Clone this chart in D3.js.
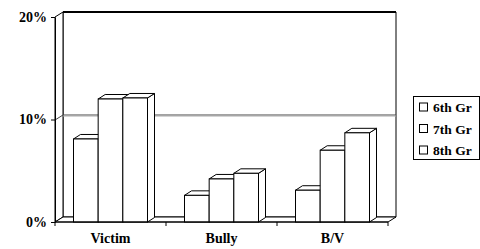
<!DOCTYPE html>
<html>
<head>
<meta charset="utf-8">
<script src="https://cdn.jsdelivr.net/npm/d3@7"></script>
<style>
  body { margin: 0; background: #fff; }
  text { font-family: "Liberation Serif", "Times New Roman", serif; font-weight: bold; fill: #000; }
</style>
</head>
<body>
<script>
// chart data
var categories = ["Victim", "Bully", "B/V"];
var seriesNames = ["6th Gr", "7th Gr", "8th Gr"];
var grade6 = [8.1, 2.6, 3.1];
var grade7 = [12.0, 4.2, 7.0];
var grade8 = [12.1, 4.75, 8.7];
var yTicks = [0, 10, 20];

function main() {
  var seriesValues = [grade6, grade7, grade8];

  var width = 480, height = 249;
  // front plane of the 3d box and depth offset
  var plotLeft = 55, plotRight = 388, plotBottom = 222, plotTop = 17;
  var dx = 8, dy = 5;      // depth of walls
  var bdx = 7, bdy = 4.5;  // depth of bars

  var svg = d3.select("body").append("svg")
      .attr("width", width)
      .attr("height", height);

  var x = d3.scaleBand().domain(categories).range([plotLeft, plotRight]).paddingInner(0).paddingOuter(0);
  var xs = d3.scaleBand().domain(seriesNames).range([0, x.bandwidth()]).paddingOuter(0.75);
  var y = d3.scaleLinear().domain([0, 20]).range([plotBottom, plotTop]);

  function poly(pts) { return "M" + pts.map(function(p) { return p[0] + "," + p[1]; }).join("L") + "Z"; }

  // back wall
  svg.append("path")
      .attr("d", poly([[plotLeft + dx, y(20) - dy], [plotRight + dx, y(20) - dy], [plotRight + dx, y(0) - dy], [plotLeft + dx, y(0) - dy]]))
      .attr("fill", "#fff").attr("stroke", "#000").attr("stroke-width", 1);

  // side wall
  svg.append("path")
      .attr("d", poly([[plotLeft, y(20)], [plotLeft + dx, y(20) - dy], [plotLeft + dx, y(0) - dy], [plotLeft, y(0)]]))
      .attr("fill", "#fff").attr("stroke", "#000").attr("stroke-width", 1);

  // gridline 10%
  [10].forEach(function(v) {
    var g = svg.append("g");
    g.append("path")
        .attr("d", "M" + plotLeft + "," + (y(v) + 0.5) + "L" + (plotLeft + dx) + "," + (y(v) - dy + 0.5) + "L" + (plotRight + dx) + "," + (y(v) - dy + 0.5))
        .attr("fill", "none").attr("stroke", "#444");
    g.append("path")
        .attr("d", "M" + (plotLeft + dx) + "," + (y(v) - dy + 1.5) + "L" + (plotRight + dx) + "," + (y(v) - dy + 1.5))
        .attr("fill", "none").attr("stroke", "#aaa");
  });

  // thick top edge
  svg.append("line")
      .attr("x1", plotLeft + dx).attr("x2", plotRight + dx)
      .attr("y1", y(20) - dy).attr("y2", y(20) - dy)
      .attr("stroke", "#000").attr("stroke-width", 2.2);

  // floor
  svg.append("path")
      .attr("d", poly([[plotLeft, y(0)], [plotRight, y(0)], [plotRight + dx, y(0) - dy], [plotLeft + dx, y(0) - dy]]))
      .attr("fill", "#fff").attr("stroke", "#000").attr("stroke-width", 1);

  // bars
  categories.forEach(function(c, ci) {
    seriesNames.forEach(function(s, si) {
      var v = seriesValues[si][ci];
      var x0 = x(c) + xs(s), x1 = x0 + xs.bandwidth();
      var yt = y(v), yb = y(0);
      var g = svg.append("g").attr("class", "bar");
      // side face
      g.append("path")
          .attr("d", poly([[x1, yt], [x1 + bdx, yt - bdy], [x1 + bdx, yb - bdy], [x1, yb]]))
          .attr("fill", "#fff").attr("stroke", "#000").attr("stroke-width", 1).attr("stroke-linejoin", "round");
      // top face
      g.append("path")
          .attr("d", poly([[x0, yt], [x0 + bdx, yt - bdy], [x1 + bdx, yt - bdy], [x1, yt]]))
          .attr("fill", "#fff").attr("stroke", "#000").attr("stroke-width", 1).attr("stroke-linejoin", "round");
      // front face
      g.append("rect")
          .attr("x", x0).attr("y", yt)
          .attr("width", x1 - x0).attr("height", yb - yt)
          .attr("fill", "#fff").attr("stroke", "#000").attr("stroke-width", 1);
    });
  });

  // y axis
  var yAxis = svg.append("g")
      .attr("transform", "translate(" + plotLeft + ",0)")
      .call(d3.axisLeft(y).tickValues(yTicks).tickFormat(function(d) { return d + "%"; }).tickSize(4).tickSizeOuter(0));
  yAxis.select(".domain").attr("stroke", "#000");
  yAxis.selectAll("text")
      .attr("x", -8)
      .style("font-family", "Liberation Serif, serif").style("font-weight", "bold").style("font-size", "14px");

  // x axis: ticks at category boundaries
  var xAxis = svg.append("g");
  xAxis.append("line")
      .attr("x1", plotLeft).attr("x2", plotRight).attr("y1", plotBottom).attr("y2", plotBottom)
      .attr("stroke", "#000");
  xAxis.selectAll(".tick")
      .data(d3.range(categories.length + 1))
      .enter().append("line")
      .attr("x1", function(i) { return plotLeft + i * x.step(); })
      .attr("x2", function(i) { return plotLeft + i * x.step(); })
      .attr("y1", plotBottom).attr("y2", plotBottom + 4)
      .attr("stroke", "#000");
  xAxis.selectAll(".lab")
      .data(categories)
      .enter().append("text")
      .attr("x", function(d) { return x(d) + x.bandwidth() / 2; })
      .attr("y", 243)
      .attr("text-anchor", "middle")
      .style("font-size", "14px")
      .text(function(d) { return d; });

  // legend
  var legend = svg.append("g").attr("transform", "translate(413,96)");
  legend.append("rect")
      .attr("x", 0.5).attr("y", 0.5).attr("width", 66).attr("height", 63)
      .attr("fill", "#fff").attr("stroke", "#000");
  seriesNames.forEach(function(s, i) {
    var cy = 11.5 + i * 21.5;
    legend.append("rect")
        .attr("x", 6.5).attr("y", cy - 4.5).attr("width", 8).attr("height", 8)
        .attr("fill", "#fff").attr("stroke", "#000");
    legend.append("text")
        .attr("x", 20).attr("y", cy + 4.5)
        .style("font-size", "13.5px")
        .text(s);
  });
}

main();
</script>
</body>
</html>
